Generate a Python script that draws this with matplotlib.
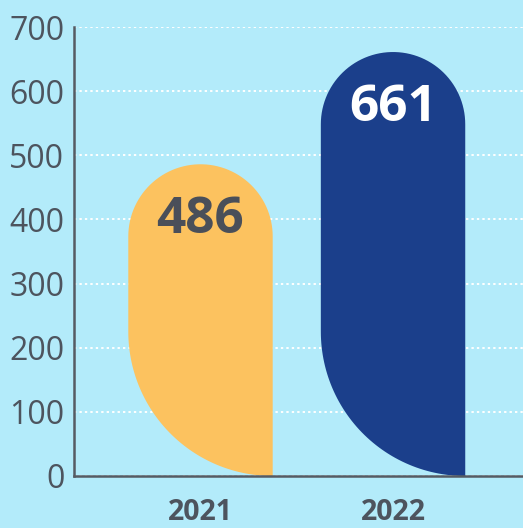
import numpy as np
import matplotlib
matplotlib.use("Agg")
import matplotlib.pyplot as plt
from matplotlib.path import Path
from matplotlib.patches import PathPatch

# chart data
years = ["2021", "2022"]
values = [486, 661]
bar_colors = ["#fcc25f", "#1b3f8b"]
label_colors = ["#4a4f59", "#ffffff"]
y_ticks = [0, 100, 200, 300, 400, 500, 600, 700]

BG = "#b3ebfa"
TEXT = "#4d545e"
W, H, DPI = 523, 528, 100

plt.rcParams["font.family"] = ["Open Sans", "DejaVu Sans"]

fig = plt.figure(figsize=(W / DPI, H / DPI), dpi=DPI, facecolor=BG)
ax_l, ax_b, ax_w, ax_h = 74, 52, 449, 449
ax = fig.add_axes([ax_l / W, ax_b / H, ax_w / W, ax_h / H], facecolor=BG)

xmin, xmax = -0.657, 1.675
ax.set_xlim(xmin, xmax)
ax.set_ylim(0, 700)

# data units per pixel, so the rounded ends stay circular
sx = (xmax - xmin) / ax_w
sy = 700 / ax_h
bar_w = 0.75


def pill_bar(xc, height):
    half = bar_w / 2
    left, right = xc - half, xc + half
    r_top = half / sx            # radius in px of the top cap
    r_bot = bar_w / sx           # radius in px of the bottom-left sweep
    cap_y = height - r_top * sy
    pts = [(right, 0), (right, cap_y)]
    t = np.linspace(0, np.pi, 60)
    pts += list(zip(xc + r_top * sx * np.cos(t), cap_y + r_top * sy * np.sin(t)))
    pts.append((left, r_bot * sy))
    t = np.linspace(np.pi, 1.5 * np.pi, 60)
    pts += list(zip(right + r_bot * sx * np.cos(t), r_bot * sy + r_bot * sy * np.sin(t)))
    pts.append((right, 0))
    return Path(pts)


for i, (v, c, lc) in enumerate(zip(values, bar_colors, label_colors)):
    ax.add_patch(PathPatch(pill_bar(i, v), facecolor=c, edgecolor="none", zorder=3))
    ax.text(i, v - 87, str(v), ha="center", va="center", fontsize=37,
            fontweight="bold", color=lc, zorder=4)

ax.set_yticks(y_ticks)
ax.set_yticklabels([str(t) for t in y_ticks])
ax.set_xticks(range(len(years)))
ax.set_xticklabels(years, fontweight="bold")
ax.tick_params(axis="y", length=0, pad=7, labelsize=23, labelcolor=TEXT)
ax.tick_params(axis="x", length=0, pad=16, labelsize=20.5, labelcolor=TEXT)

ax.grid(axis="y", color="white", linestyle=(0, (1.2, 1.6)), linewidth=1.4, zorder=1)
ax.set_axisbelow(True)
for s in ["top", "right"]:
    ax.spines[s].set_visible(False)
for s in ["left", "bottom"]:
    ax.spines[s].set_color("#555b63")
    ax.spines[s].set_linewidth(1.8)
    ax.spines[s].set_zorder(5)

fig.savefig("out.png", dpi=DPI, facecolor=BG)
